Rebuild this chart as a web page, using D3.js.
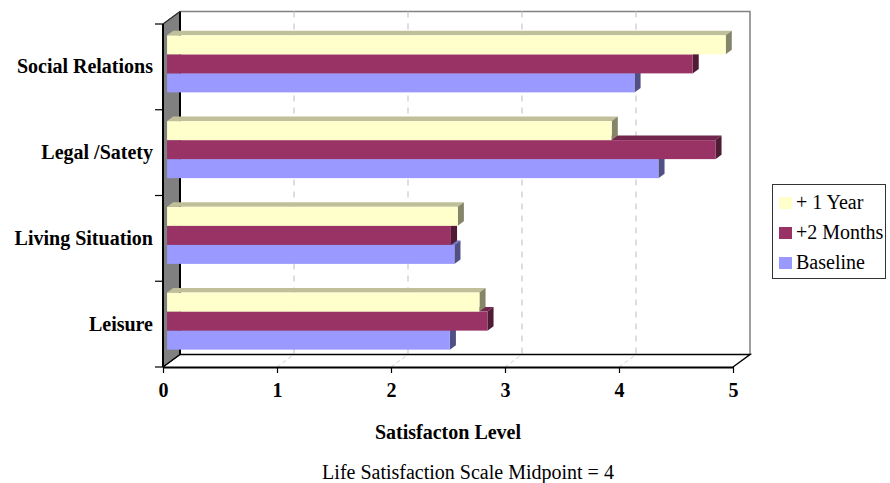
<!DOCTYPE html>
<html>
<head>
<meta charset="utf-8">
<script src="https://cdn.jsdelivr.net/npm/d3@7"></script>
<style>
  html, body { margin: 0; padding: 0; background: #fff; }
  svg { display: block; font-family: "Liberation Serif", "Times New Roman", serif; }
</style>
</head>
<body>
<svg id="chart" width="890" height="483"></svg>
<script>
// Life satisfaction by domain, three measurement points
const categories = ["Social Relations", "Legal /Satety", "Living Situation", "Leisure"];
const seriesNames = ["+ 1 Year", "+2 Months", "Baseline"];
const yearValues = [4.9, 3.9, 2.55, 2.74];
const monthValues = [4.61, 4.81, 2.49, 2.81];
const baselineValues = [4.1, 4.31, 2.52, 2.48];
const seriesColors = ["#FFFFCC", "#993366", "#9999FF"];
const xTickValues = [0, 1, 2, 3, 4, 5];
const xTitle = "Satisfacton Level";
const footnote = "Life Satisfaction Scale Midpoint = 4";

const seriesValues = [yearValues, monthValues, baselineValues];

const svg = d3.select("#chart");

// front plane of the 3-D box
const pLeft = 163, pRight = 733, pTop = 24, pBottom = 367;
// depth of the box (towards the back wall)
const depthX = 17, depthY = -12.5;
// bars sit partly into the depth
const barShiftX = depthX * 0.24, barShiftY = depthY * 0.24;
const barDepthX = depthX * 0.36, barDepthY = depthY * 0.36;

const x = d3.scaleLinear().domain([0, 5]).range([pLeft, pRight]);
const y = d3.scaleBand().domain(categories).range([pTop, pBottom])
  .paddingInner(0.335).paddingOuter(0.1675);
const ySub = d3.scaleBand().domain(seriesNames).range([0, y.bandwidth()]);

const shade = (c, k) => {
  const col = d3.rgb(c);
  return d3.rgb(col.r * k, col.g * k, col.b * k).formatHex();
};

// ---- walls ----
const walls = svg.append("g");
// left wall (grey side panel)
walls.append("polygon")
  .attr("points", [[pLeft, pTop], [pLeft + depthX, pTop + depthY], [pLeft + depthX, pBottom + depthY], [pLeft, pBottom]].join(" "))
  .attr("fill", "#808080").attr("stroke", "#222").attr("stroke-width", 1);
// back wall outline
walls.append("path")
  .attr("d", `M${pLeft + depthX},${pTop + depthY}H${pRight + depthX}V${pBottom + depthY}`)
  .attr("fill", "none").attr("stroke", "#808080").attr("stroke-width", 1.5);

// back wall gridlines
const gridVals = xTickValues.filter(v => v > 0 && v < 5);
walls.selectAll(".grid").data(gridVals).join("line")
  .attr("x1", d => x(d) + depthX).attr("x2", d => x(d) + depthX)
  .attr("y1", pTop + depthY).attr("y2", pBottom + depthY)
  .attr("stroke", "#c8c8c8").attr("stroke-width", 1.2).attr("stroke-dasharray", "6,6");
// floor gridlines
walls.selectAll(".fgrid").data(gridVals).join("line")
  .attr("x1", d => x(d)).attr("x2", d => x(d) + depthX)
  .attr("y1", pBottom).attr("y2", pBottom + depthY)
  .attr("stroke", "#d0d0d0").attr("stroke-width", 1).attr("stroke-dasharray", "4,3");

// floor back edge and right edge
walls.append("path")
  .attr("d", `M${pLeft + depthX},${pBottom + depthY}H${pRight + depthX}L${pRight},${pBottom}`)
  .attr("fill", "none").attr("stroke", "#000").attr("stroke-width", 1.5);
// back-wall left edge
walls.append("line")
  .attr("x1", pLeft + depthX).attr("x2", pLeft + depthX)
  .attr("y1", pTop + depthY).attr("y2", pBottom + depthY)
  .attr("stroke", "#000").attr("stroke-width", 2);
// left wall top and bottom edges
walls.append("line")
  .attr("x1", pLeft).attr("y1", pTop).attr("x2", pLeft + depthX).attr("y2", pTop + depthY)
  .attr("stroke", "#333").attr("stroke-width", 1.2);
walls.append("line")
  .attr("x1", pLeft).attr("y1", pBottom).attr("x2", pLeft + depthX).attr("y2", pBottom + depthY)
  .attr("stroke", "#000").attr("stroke-width", 1.5);

// ---- bars ----
const barsG = svg.append("g");
categories.forEach((cat, ci) => {
  // draw bottom bar first so upper bars overlap its top face
  for (let si = seriesNames.length - 1; si >= 0; si--) {
    const v = seriesValues[si][ci];
    const color = seriesColors[si];
    const x0 = x(0) + barShiftX;
    const x1 = x(v) + barShiftX;
    const yt = y(cat) + ySub(seriesNames[si]) + barShiftY;
    const h = ySub.bandwidth();
    const g = barsG.append("g");
    g.append("polygon")
      .attr("points", [[x0, yt], [x1, yt], [x1 + barDepthX, yt + barDepthY], [x0 + barDepthX, yt + barDepthY]].join(" "))
      .attr("fill", shade(color, 0.75));
    g.append("polygon")
      .attr("points", [[x1, yt], [x1 + barDepthX, yt + barDepthY], [x1 + barDepthX, yt + h + barDepthY], [x1, yt + h]].join(" "))
      .attr("fill", shade(color, 0.52));
    g.append("rect")
      .attr("x", x0).attr("y", yt).attr("width", x1 - x0).attr("height", h)
      .attr("fill", color);
  }
});

// ---- axes ----
const xAxis = svg.append("g").attr("transform", `translate(0,${pBottom})`)
  .call(d3.axisBottom(x).tickValues(xTickValues).tickFormat(d3.format("d"))
    .tickSize(6).tickSizeOuter(0).tickPadding(10));
xAxis.select(".domain").attr("stroke", "#000").attr("stroke-width", 2);
xAxis.selectAll(".tick line").attr("stroke", "#000").attr("stroke-width", 1.2);
xAxis.selectAll(".tick text")
  .attr("font-family", "'Liberation Serif', 'Times New Roman', serif")
  .attr("font-size", 20).attr("font-weight", "bold").attr("fill", "#000");

const yAxis = svg.append("g").attr("transform", `translate(${pLeft},0)`)
  .call(d3.axisLeft(y).tickSize(0).tickPadding(10));
yAxis.select(".domain").remove();
yAxis.selectAll(".tick text")
  .attr("font-family", "'Liberation Serif', 'Times New Roman', serif")
  .attr("font-size", 20).attr("font-weight", "bold").attr("fill", "#000")
  .attr("dy", "0.33em");

// front vertical axis line and category boundary ticks
const boundaries = categories.map(c => y(c) - y.step() * y.paddingOuter()).concat([pBottom]);
svg.append("line")
  .attr("x1", pLeft).attr("x2", pLeft).attr("y1", pTop).attr("y2", pBottom)
  .attr("stroke", "#000").attr("stroke-width", 2);
svg.selectAll(".ytick").data(boundaries).join("line")
  .attr("x1", pLeft - 8).attr("x2", pLeft).attr("y1", d => d).attr("y2", d => d)
  .attr("stroke", "#000").attr("stroke-width", 1.2);

// ---- titles ----
svg.append("text")
  .attr("x", (pLeft + pRight) / 2).attr("y", 439)
  .attr("text-anchor", "middle").attr("font-size", 20).attr("font-weight", "bold")
  .text(xTitle);
svg.append("text")
  .attr("x", 468).attr("y", 479)
  .attr("text-anchor", "middle").attr("font-size", 20)
  .text(footnote);

// ---- legend ----
const legend = svg.append("g");
legend.append("rect")
  .attr("x", 772.5).attr("y", 184.5).attr("width", 113).attr("height", 94)
  .attr("fill", "#fff").attr("stroke", "#333").attr("stroke-width", 1);
const items = legend.selectAll(".item").data(seriesNames).join("g")
  .attr("transform", (d, i) => `translate(779,${209 + i * 30})`);
items.append("rect")
  .attr("x", 0).attr("y", -12).attr("width", 13).attr("height", 12)
  .attr("fill", (d, i) => seriesColors[i]);
items.append("text")
  .attr("x", 17).attr("y", 0).attr("font-size", 20)
  .text(d => d);
</script>
</body>
</html>
